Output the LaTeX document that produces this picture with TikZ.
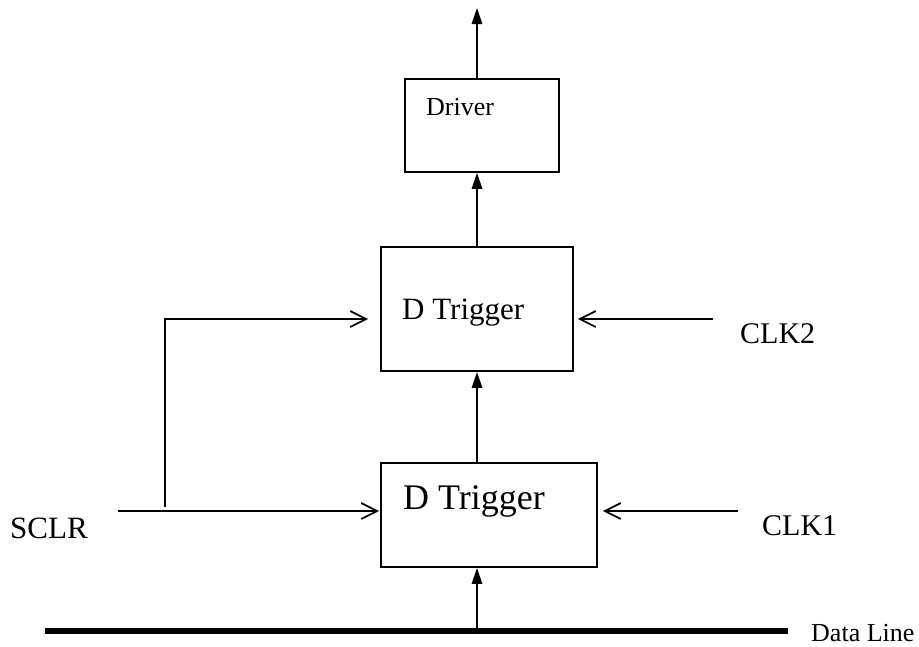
\documentclass[tikz,border=0pt]{standalone}
\usepackage{fontspec}
\setmainfont{Liberation Serif}
\usetikzlibrary{arrows.meta}
\tikzset{
  blk/.style={draw, line width=1.9pt, inner sep=0, minimum width=#1},
  lbl/.style={anchor=base west, inner sep=0},
  wire/.style={line width=1.7pt},
  fillarrow/.style={wire, -{Triangle[length=16pt,width=10.5pt]}},
  openarrow/.style={wire, -{Straight Barb[length=16pt,width=16pt,line width=1.7pt]}},
  bus/.style={line width=5.5pt}
}
\begin{document}
\begin{tikzpicture}[x=1pt,y=-1pt]
\useasboundingbox (0,0) rectangle (919,646);
% boxes
\node[blk=154pt, minimum height=93pt] (drv) at (482,125.5) {};
\node[blk=192pt, minimum height=124pt] (mid) at (477,309) {};
\node[blk=216pt, minimum height=104pt] (bot) at (489,515) {};
% texts
\node[lbl, font=\fontsize{26}{30}\selectfont] (tdrv) at (426,115) {Driver};
\node[lbl, font=\fontsize{31}{36}\selectfont] (tmid) at (402,319) {D Trigger};
\node[lbl, font=\fontsize{36}{42}\selectfont] (tbot) at (403,509) {D Trigger};
\node[lbl, font=\fontsize{30}{34}\selectfont] (tclk2) at (740,343) {CLK2};
\node[lbl, font=\fontsize{30}{34}\selectfont] (tclk1) at (762,535) {CLK1};
\node[lbl, font=\fontsize{31}{36}\selectfont] (tsclr) at (10,538) {SCLR};
\node[lbl, font=\fontsize{26}{30}\selectfont] (tdata) at (811,641) {Data Line};
% coordinates
\coordinate (colx) at (477,0);
\coordinate (outtop) at (477,8);
\coordinate (dl1) at (45,631);
\coordinate (dl2) at (788,631);
\coordinate (sclr) at (118,511);
\coordinate (br) at (165,511);
\coordinate (brtop) at (165,319);
\coordinate (clk2) at (713,319);
\coordinate (clk1) at (738,511);
% data bus
\draw[bus] (dl1) -- (dl2);
% vertical chain
\draw[fillarrow] (colx |- dl1) -- (colx |- bot.south);
\draw[fillarrow] (colx |- bot.north) -- (colx |- mid.south);
\draw[fillarrow] (colx |- mid.north) -- (colx |- drv.south);
\draw[fillarrow] (colx |- drv.north) -- (outtop);
% inputs
\draw[openarrow] (sclr) -- ([xshift=-1pt]bot.west |- sclr);
\draw[openarrow] ([yshift=4pt]br) -- (brtop) -- ([xshift=-12pt]mid.west |- brtop);
\draw[openarrow] (clk2) -- ([xshift=4pt]mid.east |- clk2);
\draw[openarrow] (clk1) -- ([xshift=5pt]bot.east |- clk1);
\end{tikzpicture}
\end{document}
